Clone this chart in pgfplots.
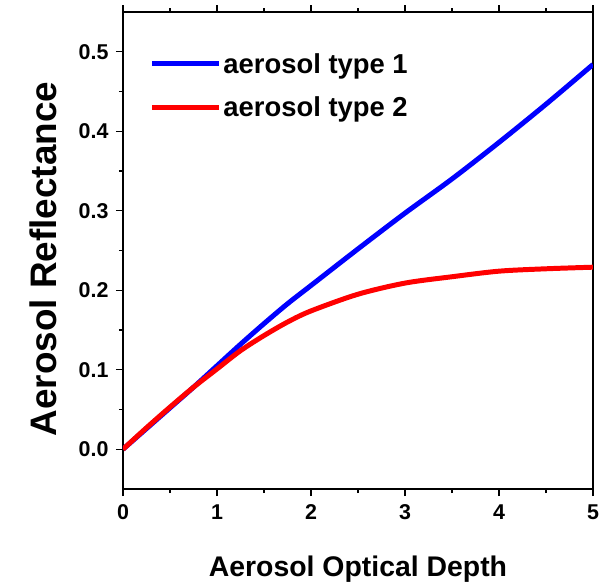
\documentclass[border=0pt]{standalone}
\usepackage{fontspec}
\setmainfont{Liberation Sans}
\usepackage{pgfplots}
\pgfplotsset{compat=1.18}
\begin{document}
\begin{tikzpicture}[x=1bp,y=1bp]
\begin{axis}[
  name=main,
  scale only axis,
  width=470bp, height=477bp,
  xmin=0, xmax=5, ymin=-0.05, ymax=0.55,
  xtick={0,1,2,3,4,5},
  ytick={0,0.1,0.2,0.3,0.4,0.5},
  minor x tick num=1, minor y tick num=1,
  xtick pos=both, ytick pos=left,
  tick align=outside,
  major tick length=7bp, minor tick length=4bp,
  axis line style={line width=1.5pt},
  every tick/.style={line width=1.3pt, black},
  /pgf/number format/assume math mode=true,
  xticklabel style={font=\fontsize{21.5}{24}\selectfont\bfseries, yshift=-5bp},
  yticklabel style={font=\fontsize{21.5}{24}\selectfont\bfseries, xshift=-4bp,
     /pgf/number format/.cd, fixed, fixed zerofill, precision=1},
  xticklabel={\pgfmathprintnumber[fixed,precision=0]{\tick}},
  xlabel={Aerosol Optical Depth},
  ylabel={Aerosol Reflectance},
  xlabel style={font=\fontsize{28.5}{32}\selectfont\bfseries, at={(axis description cs:0.5,-0.168)}, anchor=center},
  ylabel style={font=\fontsize{37}{40}\selectfont\bfseries, at={(axis description cs:-0.169,0.482)}, anchor=center},
  legend style={draw=none, fill=none, inner xsep=0pt, inner ysep=0pt,
     at={(axis description cs:0.056,0.918)}, anchor=north west,
     font=\fontsize{27.5}{30}\selectfont\bfseries, row sep=18bp,
     /tikz/every even column/.append style={column sep=3bp}},
  legend cell align=left,
  legend image code/.code={\draw[#1, line width=5pt] (0bp,0bp) -- (67bp,0bp);},
]
\addplot[blue, line width=5pt, smooth] coordinates {
(0,0) (0.25,0.026) (0.5,0.052) (0.75,0.078) (1,0.105) (1.25,0.132) (1.5,0.158) (1.75,0.183) (2,0.206) (2.5,0.252) (3,0.297) (3.5,0.34) (4,0.386) (4.5,0.434) (5,0.484)};
\addlegendentry{aerosol type 1}
\addplot[red, line width=5pt, smooth] coordinates {
(0,0) (0.25,0.027) (0.5,0.053) (0.75,0.078) (1,0.101) (1.25,0.124) (1.5,0.143) (1.75,0.16) (2,0.174) (2.5,0.195) (3,0.209) (3.5,0.217) (4,0.224) (4.5,0.227) (5,0.229)};
\addlegendentry{aerosol type 2}
\end{axis}
\useasboundingbox (main.south west) ++(-123bp,-95bp) rectangle ++(605bp,584bp);
\end{tikzpicture}
\end{document}
